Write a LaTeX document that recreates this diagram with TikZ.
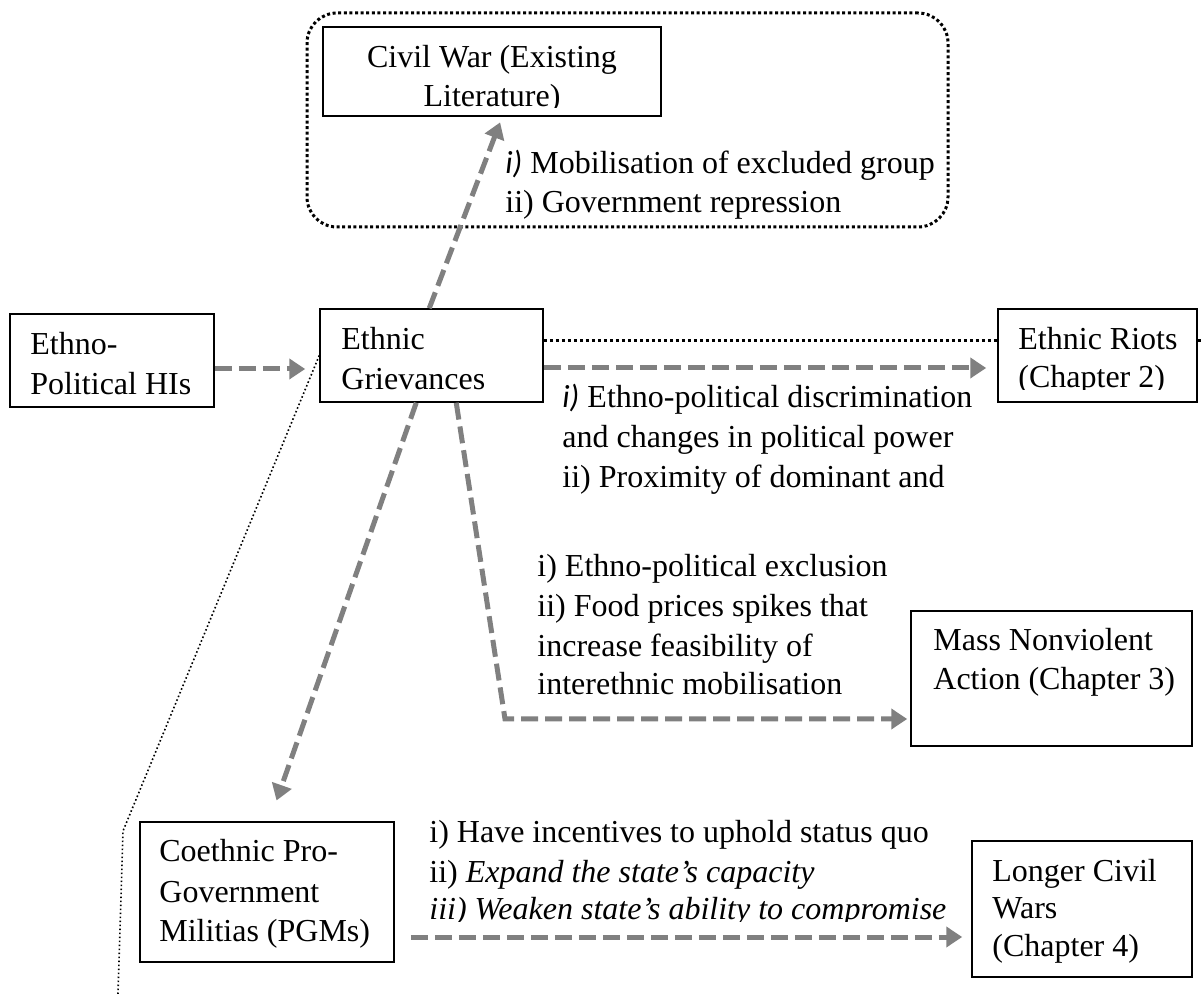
\documentclass[tikz,border=0pt]{standalone}
\usepackage{fontspec}
\setmainfont{Liberation Serif}
\newfontfamily\calfont{Carlito}
\usetikzlibrary{arrows.meta,fit,calc}
\definecolor{flowgray}{RGB}{128,128,128}
\begin{document}
\begin{tikzpicture}[x=0.5pt,y=-0.5pt,
  box/.style={draw=black, line width=0.75pt, fill=white, inner sep=0pt},
  grpframe/.style={draw=black, line width=1.5pt, dash pattern=on 1.5pt off 1.3pt, rounded corners=15pt, inner sep=0pt},
  txt/.style={anchor=base west, inner sep=0pt, font=\fontsize{16}{19.5}\selectfont},
  ctxt/.style={anchor=base, inner sep=0pt, font=\fontsize{16}{19.5}\selectfont},
  flow/.style={draw=flowgray, line width=2.5pt, dash pattern=on 8.5pt off 3.5pt, -{Triangle[length=8pt,width=10pt]}},
  link/.style={draw=black, line width=1.5pt, dash pattern=on 1.5pt off 1.5pt},
  thinlink/.style={draw=black, line width=0.8pt, dash pattern=on 0.8pt off 1.2pt}
]
\useasboundingbox (0,0) rectangle (1201,994);

% group frame
\node[grpframe, fit={(307,13) (948,227)}] (grp) {};

% Civil War box
\node[box, fit={(323,27) (661,116)}] (cw) {};
\begin{scope}
  \clip (323,27) rectangle (661,108);
  \node[ctxt] (cw1) at (492,68) {Civil War (Existing};
  \node[ctxt] (cw2) at (492,107) {Literature)};
\end{scope}
\node[txt] (mob1) at (505,174) {{\calfont\itshape i)} Mobilisation of excluded group};
\node[txt] (mob2) at (505,213) {ii) Government repression};

% Ethno-Political HIs
\node[box, fit={(10,314) (214,407)}] (ethno) {};
\node[txt] (eth1) at (30,355) {Ethno-};
\node[txt] (eth2) at (30,395) {Political HIs};

% Ethnic Grievances
\node[box, fit={(320,309) (543,402)}] (eg) {};
\node[txt] (eg1) at (341,350) {Ethnic};
\node[txt] (eg2) at (341,390) {Grievances};

% dotted link EG -- Riots
\draw[link] ($(eg.east)+(0,-14.5)$) -- (1201,341);

% Ethnic Riots
\node[box, fit={(998,309) (1197,402)}] (riots) {};
\node[txt] (er1) at (1018,350) {Ethnic Riots};
\begin{scope}
  \clip (998,309) rectangle (1197,390);
  \node[txt] (er2) at (1018,388) {(Chapter 2)};
\end{scope}

\node[txt] (dis1) at (562,408) {{\calfont\itshape i)} Ethno-political discrimination};
\node[txt] (dis2) at (562,448) {and changes in political power};
\node[txt] (dis3) at (562,488) {ii) Proximity of dominant and};

\node[txt] (exc1) at (537,577) {i) Ethno-political exclusion};
\node[txt] (exc2) at (537,617) {ii) Food prices spikes that};
\node[txt] (exc3) at (537,657) {increase feasibility of};
\node[txt] (exc4) at (537,695) {interethnic mobilisation};

% Mass Nonviolent Action
\node[box, fit={(911,611) (1192,746)}] (mnv) {};
\node[txt] (mnv1) at (933,651) {Mass Nonviolent};
\node[txt] (mnv2) at (933,690) {Action (Chapter 3)};

% PGMs
\node[box, fit={(140,822) (394,962)}] (pgm) {};
\node[txt] (pgm1) at (159,862) {Coethnic Pro-};
\node[txt] (pgm2) at (159,902) {Government};
\node[txt] (pgm3) at (159,942) {Militias (PGMs)};

\node[txt] (inc1) at (429,842) {i) Have incentives to uphold status quo};
\node[txt] (inc2) at (429,882) {ii) \textit{Expand the state’s capacity}};
\begin{scope}
  \clip (420,890) rectangle (1000,921);
  \node[txt] (inc3) at (429,920) {\textit{iii) Weaken state’s ability to compromise}};
\end{scope}

% Longer Civil Wars
\node[box, fit={(972,841) (1192,977)}] (lcw) {};
\node[txt] (lcw1) at (992,881) {Longer Civil};
\node[txt] (lcw2) at (992,918) {Wars};
\node[txt] (lcw3) at (992,957) {(Chapter 4)};

% connectors
\draw[flow, shorten >=7pt] ($(ethno.east)+(0,8.5)$) -- ($(eg.west)+(0,13.5)$);
\draw[flow, shorten >=5.5pt] ($(eg.east)+(0,12.5)$) -- ($(riots.west)+(0,12.5)$);
\draw[flow, shorten >=3pt] ($(eg.north west)+(110,0)$) -- ($(cw.south west)+(180,0)$);
\draw[flow, shorten >=11pt] ($(eg.south west)+(97,0)$) -- ($(pgm.north west)+(130,0)$);
\coordinate (mnvbend) at (505,719);
\draw[flow, shorten >=1.5pt] ($(eg.south west)+(137,0)$) -- (mnvbend) -- (mnv.west |- mnvbend);
\draw[flow, shorten <=8pt, shorten >=4.5pt] ($(pgm.east)+(0,45)$) -- ($(lcw.west |- pgm.east)+(0,45)$);

\coordinate (dbend) at (123,831);
\coordinate (dend) at (118,994);
\draw[thinlink] (eg.west) -- (dbend) -- (dend);
\end{tikzpicture}
\end{document}
